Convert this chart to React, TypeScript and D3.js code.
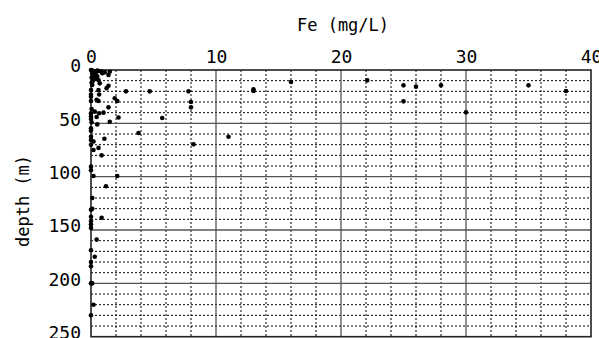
import React, { FC, useEffect, useRef } from "react"
import { axisLeft, axisTop, range, scaleLinear, select } from "d3"

// Fe (mg/L) and depth (m), one entry per sample
const fe = [
  0, 0.1, 0.2, 0.3, 0.4, 0.5, 0.6, 0.1, 0.3, 0.2, 0.5, 0.05, 0.35, 0.8, 0.9,
  1.1, 1.5, 1.4, 0.6, 0.15, 0.05, 0.7, 0.1, 1.4, 1.25, 0.6, 0, 2.8, 0, 0.65,
  1.9, 2.1, 0, 0.45, 0.6, 0, 8.0, 8.0, 1.4, 0.05, 0.3, 0, 0.65, 1.0, 0.45, 2.2,
  0, 0, 1.5, 5.7, 0.5, 0.05, 0, 3.8, 0, 0, 11.0, 1.07, 0, 0.2, 8.2, 0, 0.6, 0.2,
  0.85, 0, 0, 0.2, 2.1, 1.2, 0.1, 0.1, 0, 0.85, 0, 0, 0, 0, 0.45, 0, 0.3, 0, 0,
  0.1, 0, 0.2, 0, 13.0, 13.0, 16.0, 22.1, 25.0, 26.0, 28.0, 25.0, 35.0, 38.0,
  30.0, 4.7, 7.8,
]
const depth = [
  0, 0.5, 1, 1.5, 2, 0.5, 1, 3, 4, 5, 6, 7, 8, 1.2, 3, 2.2, 1.6, 4.7, 9.4, 10,
  12, 12.5, 14, 14.7, 17, 18.7, 18.7, 20, 23, 23, 26.5, 29, 29, 28, 29, 25, 30,
  35, 35, 36.6, 39, 40.6, 40.6, 40, 44, 44.5, 43.7, 46, 48.5, 45, 51, 49, 54.7,
  59, 57, 62.5, 62.5, 64.5, 65.6, 67, 69.7, 70, 73, 75, 80, 90.6, 94, 99.4,
  99.4, 109, 120, 130, 131, 138.5, 137.5, 141.5, 144.7, 148, 159, 169, 175, 180,
  184, 200, 200, 220, 230, 18, 19.7, 11.2, 9.7, 14.4, 15.6, 14.4, 29.4, 14.4,
  19.7, 39.7, 20, 20,
]

const xTicks = [0, 10, 20, 30, 40]
const yTicks = [0, 50, 100, 150, 200, 250]

const App: FC = () => {
  const svgRef = useRef<SVGSVGElement>(null)

  useEffect(() => {
    const element = svgRef.current
    if (!element) return

    const width = 599
    const height = 338
    const margin = { top: 70, right: 8, bottom: 1.3, left: 91 }
    const boundedWidth = width - margin.left - margin.right
    const boundedHeight = height - margin.top - margin.bottom
    const font = "'DejaVu Sans Mono', monospace"

    const svg = select(element)
    svg.selectAll("*").remove()

    const bounds = svg
      .append("g")
      .attr("transform", `translate(${margin.left},${margin.top})`)

    const xScale = scaleLinear().domain([0, 40]).range([0, boundedWidth])
    const yScale = scaleLinear().domain([0, 250]).range([0, boundedHeight])

    // minor grid (dotted)
    bounds
      .append("g")
      .selectAll("line")
      .data(range(2, 40, 2).filter((v) => v % 10 !== 0))
      .join("line")
      .attr("x1", (d) => xScale(d))
      .attr("x2", (d) => xScale(d))
      .attr("y1", 0)
      .attr("y2", boundedHeight)
      .attr("stroke", "#000")
      .attr("stroke-dasharray", "2,2")

    bounds
      .append("g")
      .selectAll("line")
      .data(range(10, 250, 10).filter((v) => v % 50 !== 0))
      .join("line")
      .attr("x1", 0)
      .attr("x2", boundedWidth)
      .attr("y1", (d) => yScale(d))
      .attr("y2", (d) => yScale(d))
      .attr("stroke", "#000")
      .attr("stroke-dasharray", "2,2")

    // major grid (solid gray)
    bounds
      .append("g")
      .selectAll("line")
      .data(xTicks.slice(1, -1))
      .join("line")
      .attr("x1", (d) => xScale(d))
      .attr("x2", (d) => xScale(d))
      .attr("y1", 0)
      .attr("y2", boundedHeight)
      .attr("stroke", "#555")
      .attr("stroke-width", 1.3)

    bounds
      .append("g")
      .selectAll("line")
      .data(yTicks.slice(1, -1))
      .join("line")
      .attr("x1", 0)
      .attr("x2", boundedWidth)
      .attr("y1", (d) => yScale(d))
      .attr("y2", (d) => yScale(d))
      .attr("stroke", "#555")
      .attr("stroke-width", 1.3)

    // frame
    bounds
      .append("rect")
      .attr("width", boundedWidth)
      .attr("height", boundedHeight)
      .attr("fill", "none")
      .attr("stroke", "#222")
      .attr("stroke-width", 1.6)

    // points
    bounds
      .append("g")
      .selectAll("circle")
      .data(fe.map((v, i) => ({ fe: v, depth: depth[i] })))
      .join("circle")
      .attr("cx", (d) => xScale(d.fe))
      .attr("cy", (d) => yScale(d.depth))
      .attr("r", 2.3)
      .attr("fill", "#000")

    // axes
    const xAxis = bounds
      .append("g")
      .call(axisTop(xScale).tickValues(xTicks).tickSize(0).tickPadding(7))
    xAxis.select(".domain").remove()
    xAxis
      .selectAll("text")
      .attr("font-family", font)
      .attr("font-size", 18)
      .attr("fill", "#000")

    const yAxis = bounds
      .append("g")
      .call(axisLeft(yScale).tickValues(yTicks).tickSize(0).tickPadding(10))
    yAxis.select(".domain").remove()
    yAxis
      .selectAll("text")
      .attr("font-family", font)
      .attr("font-size", 18)
      .attr("fill", "#000")
      .attr("dy", "0.1em")

    // labels
    svg
      .append("text")
      .text("Fe (mg/L)")
      .attr("x", 343)
      .attr("y", 31)
      .attr("text-anchor", "middle")
      .attr("font-family", font)
      .attr("font-size", 17)

    svg
      .append("text")
      .text("depth (m)")
      .attr("transform", `translate(29,201) rotate(-90)`)
      .attr("text-anchor", "middle")
      .attr("font-family", font)
      .attr("font-size", 17)
  }, [])

  return (
    <svg
      ref={svgRef}
      width={599}
      height={338}
      style={{ position: "absolute", left: 0, top: 0, background: "#fff" }}
    />
  )
}

export default App
